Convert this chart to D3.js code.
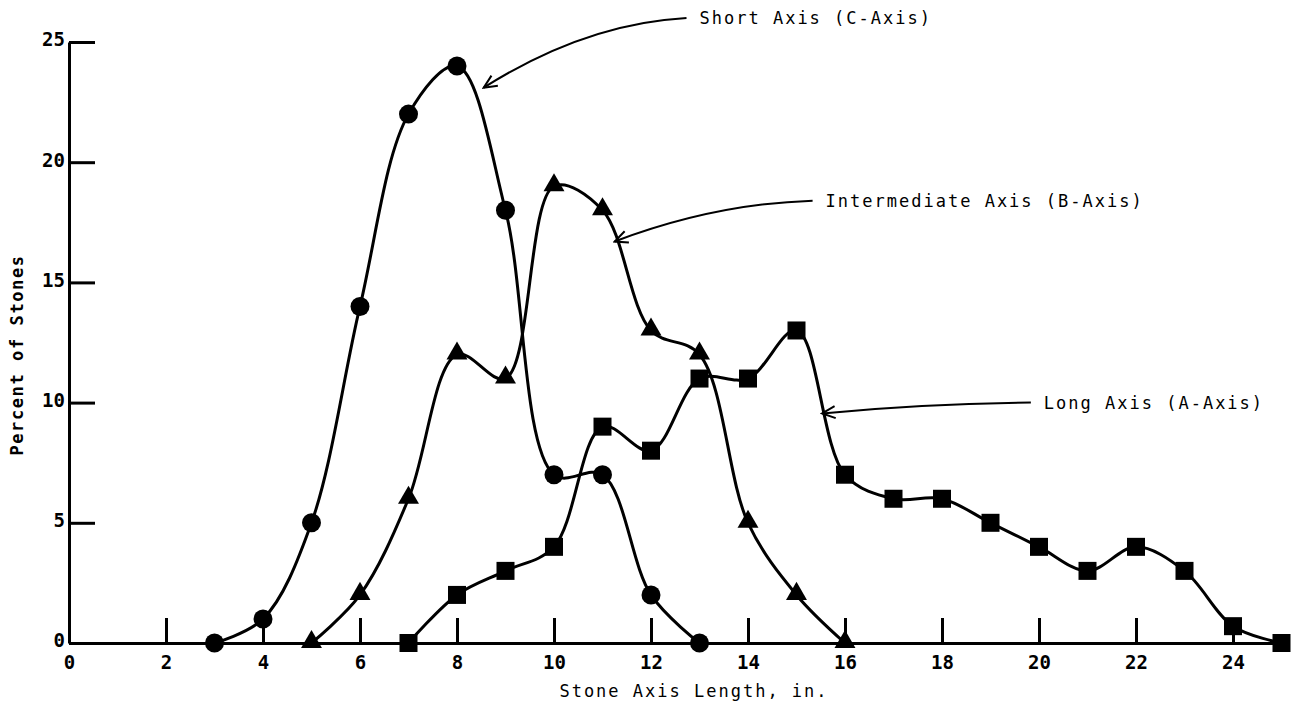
<!DOCTYPE html>
<html>
<head>
<meta charset="utf-8">
<script src="https://cdn.jsdelivr.net/npm/d3@7"></script>
<style>
  html, body { margin: 0; padding: 0; background: #fff; }
  svg { display: block; }
</style>
</head>
<body>
<svg id="chart" width="1291" height="709"></svg>
<script>
// ---- data ----
const shortX = [3, 4, 5, 6, 7, 8, 9, 10, 11, 12, 13];
const shortY = [0, 1, 5, 14, 22, 24, 18, 7, 7, 2, 0];

const interX = [5, 6, 7, 8, 9, 10, 11, 12, 13, 14, 15, 16];
const interY = [0, 2, 6, 12, 11, 19, 18, 13, 12, 5, 2, 0];

const longX = [7, 8, 9, 10, 11, 12, 13, 14, 15, 16, 17, 18, 19, 20, 21, 22, 23, 24, 25];
const longY = [0, 2, 3, 4, 9, 8, 11, 11, 13, 7, 6, 6, 5, 4, 3, 4, 3, 0.7, 0];

const xTicks = [0, 2, 4, 6, 8, 10, 12, 14, 16, 18, 20, 22, 24];
const yTicks = [0, 5, 10, 15, 20, 25];

const annoLabels = ["Short Axis (C-Axis)", "Intermediate Axis (B-Axis)", "Long Axis (A-Axis)"];
// label anchor [x, y] and arrow tip [x, y], in data units
const annoText = [[13.0, 26.0], [15.6, 18.4], [20.1, 10.0]];
const annoTip  = [[8.55, 23.1], [11.25, 16.7], [15.53, 9.55]];

const xTitle = "Stone Axis Length, in.";
const yTitle = "Percent of Stones";

// ---- drawing ----
const svg = d3.select("#chart");
const x = d3.scaleLinear().domain([0, 25]).range([69, 1281.5]);
const y = d3.scaleLinear().domain([0, 25]).range([643, 42]);

const mono = "'DejaVu Sans Mono', 'Liberation Mono', monospace";

// axes
const gx = svg.append("g").attr("transform", `translate(0,${y(0)})`)
  .call(d3.axisBottom(x).tickValues(xTicks).tickSize(-25).tickSizeOuter(0).tickPadding(13).tickFormat(d3.format("d")));
const gy = svg.append("g").attr("transform", `translate(${x(0)},0)`)
  .call(d3.axisLeft(y).tickValues(yTicks).tickSize(-26).tickSizeOuter(0).tickPadding(4).tickFormat(d3.format("d")));
[gx, gy].forEach(g => {
  g.select(".domain").attr("stroke", "#000").attr("stroke-width", 3);
  g.selectAll(".tick line").attr("stroke", "#000").attr("stroke-width", 3);
  g.selectAll(".tick text").attr("fill", "#000").attr("font-family", mono)
    .attr("font-size", 19).attr("font-weight", "bold");
});
gy.selectAll(".tick text").attr("dy", "0.2em");

// titles
svg.append("text").attr("x", 694).attr("y", 697).attr("text-anchor", "middle")
  .attr("font-family", mono).attr("font-size", 17).attr("letter-spacing", 2)
  .text(xTitle);
svg.append("text").attr("transform", "translate(23,355) rotate(-90)").attr("text-anchor", "middle")
  .attr("font-family", mono).attr("font-size", 17).attr("letter-spacing", 1.6)
  .attr("font-weight", "bold")
  .text(yTitle);

// series
const line = d3.line().x(d => x(d[0])).y(d => y(d[1])).curve(d3.curveCatmullRom.alpha(0.5));
const series = [
  {xs: shortX, ys: shortY, sym: "circle"},
  {xs: interX, ys: interY, sym: "triangle"},
  {xs: longX,  ys: longY,  sym: "square"}
];
series.forEach(s => {
  const pts = s.xs.map((v, i) => [v, s.ys[i]]);
  svg.append("path").datum(pts).attr("d", line)
    .attr("fill", "none").attr("stroke", "#000").attr("stroke-width", 3);
});
series.forEach(s => {
  const pts = s.xs.map((v, i) => [v, s.ys[i]]);
  const g = svg.append("g");
  if (s.sym === "circle") {
    g.selectAll("circle").data(pts).join("circle")
      .attr("cx", d => x(d[0])).attr("cy", d => y(d[1])).attr("r", 9.5).attr("fill", "#000");
  } else if (s.sym === "square") {
    g.selectAll("rect").data(pts).join("rect")
      .attr("x", d => x(d[0]) - 9).attr("y", d => y(d[1]) - 9)
      .attr("width", 18).attr("height", 18).attr("fill", "#000");
  } else {
    const tri = d3.symbol().type(d3.symbolTriangle).size(190);
    g.selectAll("path").data(pts).join("path")
      .attr("transform", d => `translate(${x(d[0])},${y(d[1]) - 1})`)
      .attr("d", tri).attr("fill", "#000");
  }
});

// annotations
const defs = svg.append("defs");
defs.append("marker").attr("id", "arr").attr("viewBox", "-14 -8 16 16")
  .attr("refX", 0).attr("refY", 0).attr("markerWidth", 16).attr("markerHeight", 16)
  .attr("markerUnits", "userSpaceOnUse").attr("orient", "auto")
  .append("path").attr("d", "M-13,-6 L0,0 L-13,6").attr("fill", "none")
  .attr("stroke", "#000").attr("stroke-width", 2);

annoLabels.forEach((lab, i) => {
  const tx = x(annoText[i][0]), ty = y(annoText[i][1]);
  const px = x(annoTip[i][0]), py = y(annoTip[i][1]);
  const sx = tx - 13, sy = ty;
  const cx = sx - (sx - px) * 0.5, cy = sy + (py - sy) * 0.08;
  svg.append("path").attr("d", `M${sx},${sy} Q${cx},${cy} ${px},${py}`)
    .attr("fill", "none").attr("stroke", "#000").attr("stroke-width", 2)
    .attr("marker-end", "url(#arr)");
  svg.append("text").attr("x", tx).attr("y", ty).attr("dy", "0.35em")
    .attr("font-family", mono).attr("font-size", 17).attr("letter-spacing", 2)
    .text(lab);
});
</script>
</body>
</html>
